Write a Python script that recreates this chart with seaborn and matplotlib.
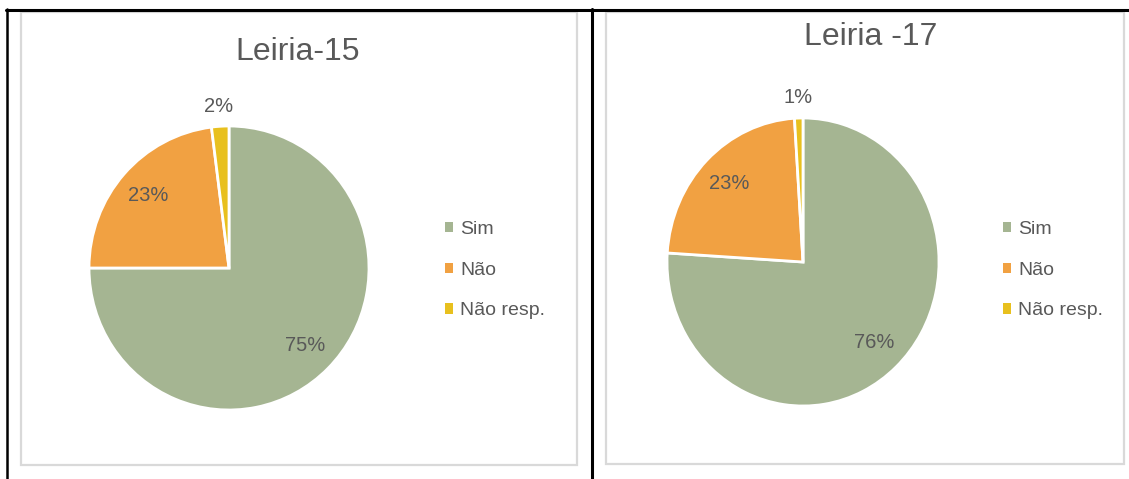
import matplotlib
matplotlib.use("Agg")
import matplotlib.pyplot as plt
import seaborn as sns
import numpy as np
from matplotlib.patches import Rectangle, Patch
from matplotlib.lines import Line2D

# ---- data ----
categories = ["Sim", "Não", "Não resp."]
leiria15_values = [75, 23, 2]
leiria17_values = [76, 23, 1]
titles = ["Leiria-15", "Leiria -17"]

sns.set_theme(style="white")
plt.rcParams['font.family'] = ['Liberation Sans Narrow', 'Liberation Sans', 'DejaVu Sans']
palette = sns.color_palette(["#A5B592", "#F1A142", "#E8C01E"])
text_col = "#595959"

W, H = 1129, 479
fig = plt.figure(figsize=(W / 100, H / 100), dpi=100)
fig.patch.set_facecolor("white")

def fx(px):
    return px / W

def fy(py):
    return 1 - py / H

# table borders (black)
fig.add_artist(Line2D([fx(6), fx(1129)], [fy(10), fy(10)], color="black", lw=2.2))
fig.add_artist(Line2D([fx(7), fx(7)], [fy(9), fy(479)], color="black", lw=1.8))
fig.add_artist(Line2D([fx(592), fx(592)], [fy(9), fy(479)], color="black", lw=2.2))

# chart boxes (light gray)
for x0, y0, x1, y1 in [(21, 12, 577, 465), (606, 12, 1124, 464)]:
    fig.add_artist(Rectangle((fx(x0), fy(y1)), fx(x1) - fx(x0), fy(y0) - fy(y1),
                             fill=False, edgecolor="#D9D9D9", lw=1.6))

panels = [
    dict(values=leiria15_values, title=titles[0], cx=229, cy=268, rx=140, ry=142,
         tx=298, ty=52, lx=445, ly=229),
    dict(values=leiria17_values, title=titles[1], cx=803, cy=262, rx=136, ry=144,
         tx=871, ty=37, lx=1003, ly=229),
]

for p in panels:
    ax = fig.add_axes([fx(p["cx"] - p["rx"]), fy(p["cy"] + p["ry"]),
                       2 * p["rx"] / W, 2 * p["ry"] / H])
    wedges, texts, autotexts = ax.pie(
        p["values"], colors=palette, startangle=90, counterclock=False,
        autopct="%.0f%%", pctdistance=0.77,
        wedgeprops=dict(edgecolor="white", linewidth=2),
        textprops=dict(color=text_col, fontsize=14.5))
    # place the tiny slice label outside
    for w, t, v in zip(wedges, autotexts, p["values"]):
        if v < 5:
            ang = np.deg2rad((w.theta1 + w.theta2) / 2)
            t.set_position((1.14 * np.cos(ang), 1.14 * np.sin(ang)))
    ax.set_xlim(-1, 1)
    ax.set_ylim(-1, 1)
    ax.set_aspect("auto")
    ax.axis("off")
    fig.text(fx(p["tx"]), fy(p["ty"]), p["title"], ha="center", va="center",
             fontsize=23, color=text_col)
    handles = [Patch(facecolor=c, edgecolor="none") for c in palette]
    fig.legend(handles, categories, loc="upper left",
               bbox_to_anchor=(fx(p["lx"]), fy(p["ly"] - 8)),
               frameon=False, fontsize=14, labelcolor=text_col,
               handlelength=0.42, handleheight=0.42, handletextpad=0.35,
               labelspacing=1.22, borderaxespad=0, borderpad=0)

fig.savefig("out.png", dpi=100, facecolor="white")
